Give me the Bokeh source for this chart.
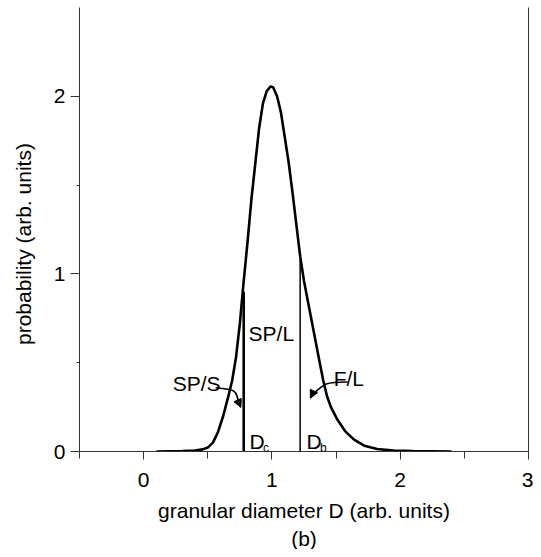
from bokeh.plotting import figure
from bokeh.models import (Range1d, FixedTicker, LinearAxis, Title, Label, Arrow,
                          NormalHead, ColumnDataSource)
from bokeh.embed import file_html
from bokeh.resources import INLINE

# curve data
diam = [0.10, 0.30, 0.40, 0.46, 0.50, 0.54, 0.58, 0.62, 0.66, 0.69, 0.72, 0.75,
        0.78, 0.81, 0.84, 0.87, 0.90, 0.93, 0.96, 0.99, 1.01, 1.04, 1.07, 1.10,
        1.13, 1.16, 1.19, 1.22, 1.25, 1.29, 1.33, 1.37, 1.40, 1.43, 1.46, 1.51,
        1.57, 1.64, 1.72, 1.82, 1.95, 2.10, 2.40]
prob = [0.0, 0.003, 0.006, 0.012, 0.022, 0.05, 0.11, 0.20, 0.31, 0.40, 0.53, 0.72,
        0.96, 1.18, 1.42, 1.62, 1.82, 1.96, 2.03, 2.056, 2.05, 2.00, 1.91, 1.77,
        1.63, 1.46, 1.28, 1.10, 0.96, 0.81, 0.66, 0.51, 0.40, 0.31, 0.25, 0.18,
        0.115, 0.067, 0.033, 0.014, 0.005, 0.002, 0.0]

# critical diameters
cut_x = [0.78, 1.22]
cut_top = [0.90, 1.08]

x_ticks = [0, 1, 2, 3]
x_minor = [-0.5, 0.5, 1.5, 2.5]
y_ticks = [0, 1, 2]
y_minor = [0.5, 1.5]

FONT = "Liberation Sans"
AX = "#333333"
FS = "21px"

p = figure(width=533, height=549, output_backend="svg", toolbar_location=None,
           x_range=Range1d(-0.5, 3.0), y_range=Range1d(0, 2.5),
           min_border_left=79, min_border_right=5, min_border_top=7,
           min_border_bottom=97, x_axis_label="granular diameter D (arb. units)",
           y_axis_label="probability (arb. units)" + "\u00a0" * 5)
p.grid.visible = False
p.outline_line_color = None
p.background_fill_color = "white"
p.border_fill_color = "white"

xa = p.xaxis[0]
xa.ticker = FixedTicker(ticks=x_ticks, minor_ticks=x_minor)
xa.major_tick_out = 8
xa.major_tick_in = 0
xa.minor_tick_out = 7
xa.minor_tick_in = 0
xa.major_label_standoff = 13
xa.axis_label_standoff = 9

ya = p.yaxis[0]
ya.ticker = FixedTicker(ticks=y_ticks, minor_ticks=y_minor)
ya.major_tick_out = 9
ya.major_tick_in = 0
ya.minor_tick_out = 3
ya.minor_tick_in = 0
ya.major_label_standoff = 5
ya.axis_label_standoff = 16

for a in (xa, ya):
    a.axis_line_color = AX
    a.major_tick_line_color = AX
    a.minor_tick_line_color = AX
    a.major_label_text_font = FONT
    a.major_label_text_font_size = FS
    a.major_label_text_color = "black"
    a.axis_label_text_font = FONT
    a.axis_label_text_font_size = FS
    a.axis_label_text_font_style = "normal"
    a.axis_label_text_color = "black"

ra = LinearAxis(ticker=FixedTicker(ticks=[]), axis_line_color=AX,
                major_tick_line_color=None, minor_tick_line_color=None,
                major_label_text_font_size="0px")
p.add_layout(ra, "right")

p.add_layout(Title(text="(b)", align="center", text_font=FONT,
                   text_font_size=FS, text_font_style="normal",
                   text_color="black", standoff=0, offset=0), "below")

p.line(diam, prob, line_color="black", line_width=2.6)

src = ColumnDataSource(dict(x=cut_x, y0=[0, 0], y1=cut_top, w=[2.6, 1.5]))
p.segment(x0="x", y0="y0", x1="x", y1="y1", source=src, line_color="black",
          line_width="w")

# text labels
labels = [("SP/L", 0.818, 0.667, 21), ("SP/S", 0.226, 0.381, 21),
          ("F/L", 1.481, 0.409, 21), ("D", 0.826, 0.056, 21), ("c", 0.93, 0.022, 12),
          ("D", 1.27, 0.056, 21), ("b", 1.375, 0.022, 12)]
for t, x, y, s in labels:
    p.add_layout(Label(x=x, y=y, text=t, text_font=FONT, text_font_size=f"{s}px",
                       text_color="black", text_baseline="alphabetic"))

# curved pointer arrows
arrows = dict(x0=[0.561, 1.59], y0=[0.359, 0.392], cx=[0.72, 1.42], cy=[0.35, 0.39],
              x1=[0.745, 1.315], y1=[0.265, 0.32])
p.bezier(x0=arrows["x0"], y0=arrows["y0"], x1=arrows["x1"], y1=arrows["y1"],
         cx0=arrows["cx"], cy0=arrows["cy"], cx1=arrows["cx"], cy1=arrows["cy"],
         line_color="black", line_width=1.5)
heads = [(0.735, 0.285, 0.758, 0.248), (1.32, 0.33, 1.30, 0.30)]
for hx0, hy0, hx1, hy1 in heads:
    p.add_layout(Arrow(x_start=hx0, y_start=hy0, x_end=hx1, y_end=hy1,
                       line_width=1.5, line_color="black",
                       end=NormalHead(size=8, fill_color="black", line_color="black")))

open("out.html", "w").write(file_html(p, INLINE))
